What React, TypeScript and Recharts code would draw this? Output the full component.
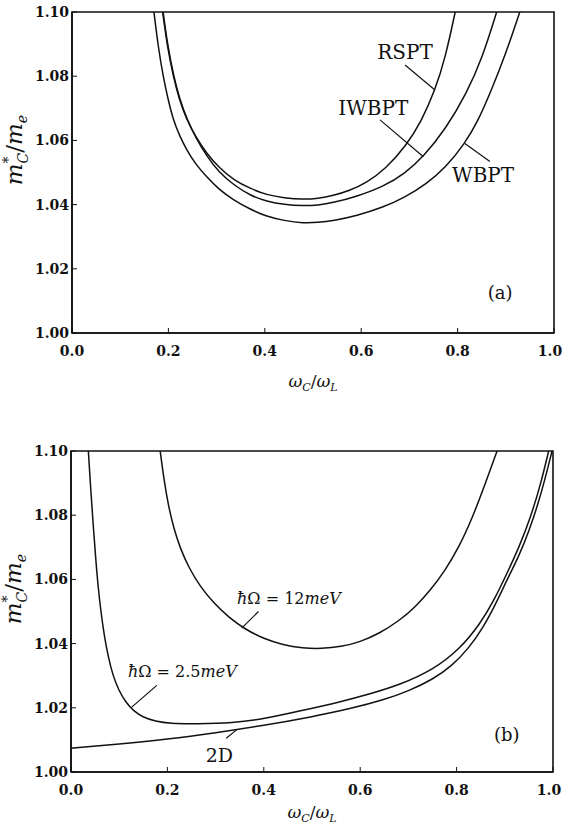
import React from "react";
import {
  LineChart,
  Line,
  XAxis,
  YAxis,
  ReferenceArea,
  ReferenceLine,
  ReferenceDot,
} from "recharts";

// panel (a): effective cyclotron mass for three perturbation schemes
const rsptX = [0.188, 0.198, 0.21, 0.222, 0.238, 0.257, 0.279, 0.305, 0.335, 0.37, 0.404, 0.44, 0.48, 0.51, 0.542, 0.575, 0.611, 0.65, 0.694, 0.725, 0.753, 0.775, 0.795];
const rsptY = [1.1, 1.089, 1.08, 1.073, 1.0664, 1.061, 1.056, 1.0515, 1.0477, 1.045, 1.043, 1.0421, 1.0416, 1.0419, 1.0428, 1.0443, 1.0468, 1.051, 1.0585, 1.066, 1.0755, 1.086, 1.1];

const iwbptX = [0.189, 0.199, 0.211, 0.223, 0.239, 0.258, 0.28, 0.305, 0.335, 0.37, 0.404, 0.44, 0.48, 0.51, 0.542, 0.59, 0.646, 0.69, 0.729, 0.775, 0.819, 0.852, 0.881];
const iwbptY = [1.1, 1.089, 1.08, 1.073, 1.0664, 1.0605, 1.055, 1.05, 1.0462, 1.0428, 1.041, 1.04, 1.0396, 1.0398, 1.0406, 1.0425, 1.0456, 1.0496, 1.0549, 1.0635, 1.0747, 1.086, 1.1];

const wbptX = [0.17, 0.179, 0.189, 0.199, 0.21, 0.223, 0.238, 0.257, 0.279, 0.305, 0.335, 0.37, 0.404, 0.44, 0.48, 0.51, 0.542, 0.59, 0.646, 0.69, 0.736, 0.775, 0.815, 0.842, 0.867, 0.9, 0.929];
const wbptY = [1.1, 1.089, 1.08, 1.073, 1.0664, 1.0615, 1.057, 1.0525, 1.0487, 1.0447, 1.0414, 1.0385, 1.0363, 1.035, 1.0342, 1.0344, 1.035, 1.0365, 1.0392, 1.0422, 1.0465, 1.0515, 1.059, 1.066, 1.0745, 1.087, 1.1];

// panel (b): two confinement energies and the 2D limit
const w12X = [0.185, 0.193, 0.202, 0.213, 0.227, 0.245, 0.268, 0.295, 0.327, 0.362, 0.4, 0.44, 0.48, 0.52, 0.56, 0.6, 0.64, 0.68, 0.715, 0.745, 0.775, 0.805, 0.835, 0.86, 0.884];
const w12Y = [1.1, 1.091, 1.083, 1.076, 1.0695, 1.0635, 1.0578, 1.0528, 1.0482, 1.0444, 1.0415, 1.0396, 1.0386, 1.0384, 1.039, 1.0405, 1.0432, 1.047, 1.0515, 1.0565, 1.0625, 1.07, 1.08, 1.09, 1.1];

const w25X = [0.036, 0.041, 0.046, 0.051, 0.056, 0.062, 0.069, 0.077, 0.087, 0.099, 0.113, 0.13, 0.15, 0.175, 0.205, 0.26, 0.336, 0.4, 0.475, 0.558, 0.62, 0.683, 0.751, 0.807, 0.849, 0.876, 0.905, 0.931, 0.955, 0.975, 0.991];
const w25Y = [1.1, 1.088, 1.077, 1.067, 1.058, 1.05, 1.0425, 1.036, 1.03, 1.0255, 1.0218, 1.019, 1.017, 1.0158, 1.0151, 1.015, 1.0153, 1.0165, 1.019, 1.0218, 1.0243, 1.0272, 1.0318, 1.0383, 1.0462, 1.053, 1.062, 1.0705, 1.08, 1.09, 1.1];

const d2X = [0.0, 0.1, 0.2, 0.3, 0.4, 0.5, 0.58, 0.65, 0.7, 0.75, 0.79, 0.825, 0.855, 0.88, 0.905, 0.93, 0.95, 0.968, 0.983, 0.998];
const d2Y = [1.0074, 1.0087, 1.0102, 1.0122, 1.0145, 1.0172, 1.0197, 1.0225, 1.0252, 1.0288, 1.033, 1.0385, 1.045, 1.052, 1.06, 1.0675, 1.075, 1.083, 1.091, 1.1];

const xTicks = [0, 0.2, 0.4, 0.6, 0.8, 1.0];
const yTicks = [1.0, 1.02, 1.04, 1.06, 1.08, 1.1];

const pts = (xs: number[], ys: number[]) => xs.map((x, i) => ({ x, y: ys[i] }));

const FONT = "'DejaVu Serif', serif";
const INK = "#111";

const XLabel = (props: any) => {
  const { viewBox } = props;
  const cx = viewBox.x + viewBox.width / 2;
  const cy = viewBox.y + props.dyOff;
  return (
    <text x={cx} y={cy} textAnchor="middle" fontFamily={FONT} fontSize={17} fill={INK}>
      <tspan fontStyle="italic">ω</tspan>
      <tspan fontSize={11} dy={4} fontStyle="italic">C</tspan>
      <tspan dy={-4}>/</tspan>
      <tspan fontStyle="italic">ω</tspan>
      <tspan fontSize={11} dy={4} fontStyle="italic">L</tspan>
    </text>
  );
};

const YLabel = (props: any) => {
  const { viewBox } = props;
  const cx = 22;
  const cy = viewBox.y + viewBox.height * 0.43;
  return (
    <text
      x={cx}
      y={cy}
      textAnchor="middle"
      transform={`rotate(-90, ${cx}, ${cy})`}
      fontFamily={FONT}
      fontSize={23}
      fill={INK}
    >
      <tspan fontStyle="italic">m</tspan>
      <tspan fontSize={14} dy={-9}>*</tspan>
      <tspan fontSize={14} dx={-7} dy={15} fontStyle="italic">C</tspan>
      <tspan dy={-6}>/</tspan>
      <tspan fontStyle="italic">m</tspan>
      <tspan fontSize={14} dy={5} fontStyle="italic">e</tspan>
    </text>
  );
};

// bottom tick label; the last one is nudged in so it stays on the page
const XTick = (props: any) => {
  const { x, y, payload } = props;
  const last = payload.value === 1;
  return (
    <text
      x={last ? x - 4 : x}
      y={y}
      dy="0.71em"
      textAnchor="middle"
      fontFamily={FONT}
      fontSize={14}
      fontWeight={600}
      fill={INK}
    >
      {Number(payload.value).toFixed(1)}
    </text>
  );
};

const Tag = ({ x, y, children, size = 17 }: any) => (
  <ReferenceDot
    x={x}
    y={y}
    r={1}
    fill="none"
    stroke="none"
    label={(p: any) => (
      <text
        x={p.viewBox.x + p.viewBox.width / 2}
        y={p.viewBox.y + p.viewBox.height / 2}
        dy="0.35em"
        textAnchor="middle"
        fontFamily={FONT}
        fontSize={size}
        fill={INK}
      >
        {children}
      </text>
    )}
  />
);

const Leader = ({ x1, y1, x2, y2 }: any) => (
  <ReferenceLine
    segment={[
      { x: x1, y: y1 },
      { x: x2, y: y2 },
    ]}
    stroke={INK}
    strokeWidth={1.2}
  />
);

const tickStyle = { fill: INK, fontSize: 14, fontFamily: FONT, fontWeight: 600 };

const Panel = ({ height, xLabelOffset, children }: any) => (
  <LineChart width={564} height={height} margin={{ top: 12, right: 10, bottom: 0, left: 0 }}>
    <XAxis
      dataKey="x"
      type="number"
      domain={[0, 1]}
      ticks={xTicks}
      allowDataOverflow
      tick={<XTick />}
      tickSize={-5}
      tickMargin={18}
      tickLine={{ stroke: INK }}
      axisLine={{ stroke: INK, strokeWidth: 1.6 }}
      height={height - 333}
      label={<XLabel dyOff={xLabelOffset} />}
    />
    <YAxis
      dataKey="y"
      type="number"
      domain={[1.0, 1.1]}
      ticks={yTicks}
      allowDataOverflow
      tickFormatter={(v: number) => v.toFixed(2)}
      tick={tickStyle}
      tickSize={-5}
      tickMargin={8}
      tickLine={{ stroke: INK }}
      axisLine={{ stroke: INK, strokeWidth: 1.6 }}
      width={72}
      label={<YLabel />}
    />
    <ReferenceArea x1={0} x2={1} y1={1.0} y2={1.1} fill="none" stroke={INK} strokeWidth={1.6} />
    {children}
  </LineChart>
);

const curve = (key: string, data: any[]) => (
  <Line
    key={key}
    data={data}
    dataKey="y"
    type="basis"
    stroke={INK}
    strokeWidth={1.5}
    dot={false}
    activeDot={false}
    isAnimationActive={false}
  />
);

export default function App() {
  return (
    <div style={{ position: "absolute", left: 0, top: 0, width: 564, height: 825, background: "#fff" }}>
      <div style={{ position: "absolute", left: 0, top: 0 }}>
        <Panel height={400} xLabelOffset={54}>
          {curve("rspt", pts(rsptX, rsptY))}
          {curve("iwbpt", pts(iwbptX, iwbptY))}
          {curve("wbpt", pts(wbptX, wbptY))}
          <Leader x1={0.691} y1={1.0835} x2={0.753} y2={1.0757} />
          <Leader x1={0.639} y1={1.0664} x2={0.729} y2={1.0549} />
          <Leader x1={0.815} y1={1.059} x2={0.867} y2={1.0534} />
          <Tag x={0.691} y={1.0876} size={20}>RSPT</Tag>
          <Tag x={0.625} y={1.07} size={20}>IWBPT</Tag>
          <Tag x={0.853} y={1.0492} size={20}>WBPT</Tag>
          <Tag x={0.888} y={1.0125} size={18}>(a)</Tag>
        </Panel>
      </div>
      <div style={{ position: "absolute", left: -1, top: 439 }}>
        <Panel height={386} xLabelOffset={46}>
          {curve("w12", pts(w12X, w12Y))}
          {curve("w25", pts(w25X, w25Y))}
          {curve("d2", pts(d2X, d2Y))}
          <Leader x1={0.354} y1={1.0448} x2={0.389} y2={1.05} />
          <Leader x1={0.126} y1={1.0202} x2={0.178} y2={1.027} />
          <Leader x1={0.322} y1={1.0105} x2={0.344} y2={1.0132} />
          <Tag x={0.452} y={1.054} size={16}>
            <tspan fontStyle="italic">ħ</tspan>Ω = 12<tspan fontStyle="italic">meV</tspan>
          </Tag>
          <Tag x={0.231} y={1.0312} size={16}>
            <tspan fontStyle="italic">ħ</tspan>Ω = 2.5<tspan fontStyle="italic">meV</tspan>
          </Tag>
          <Tag x={0.308} y={1.0053} size={19}>2D</Tag>
          <Tag x={0.904} y={1.0115} size={18}>(b)</Tag>
        </Panel>
      </div>
    </div>
  );
}
